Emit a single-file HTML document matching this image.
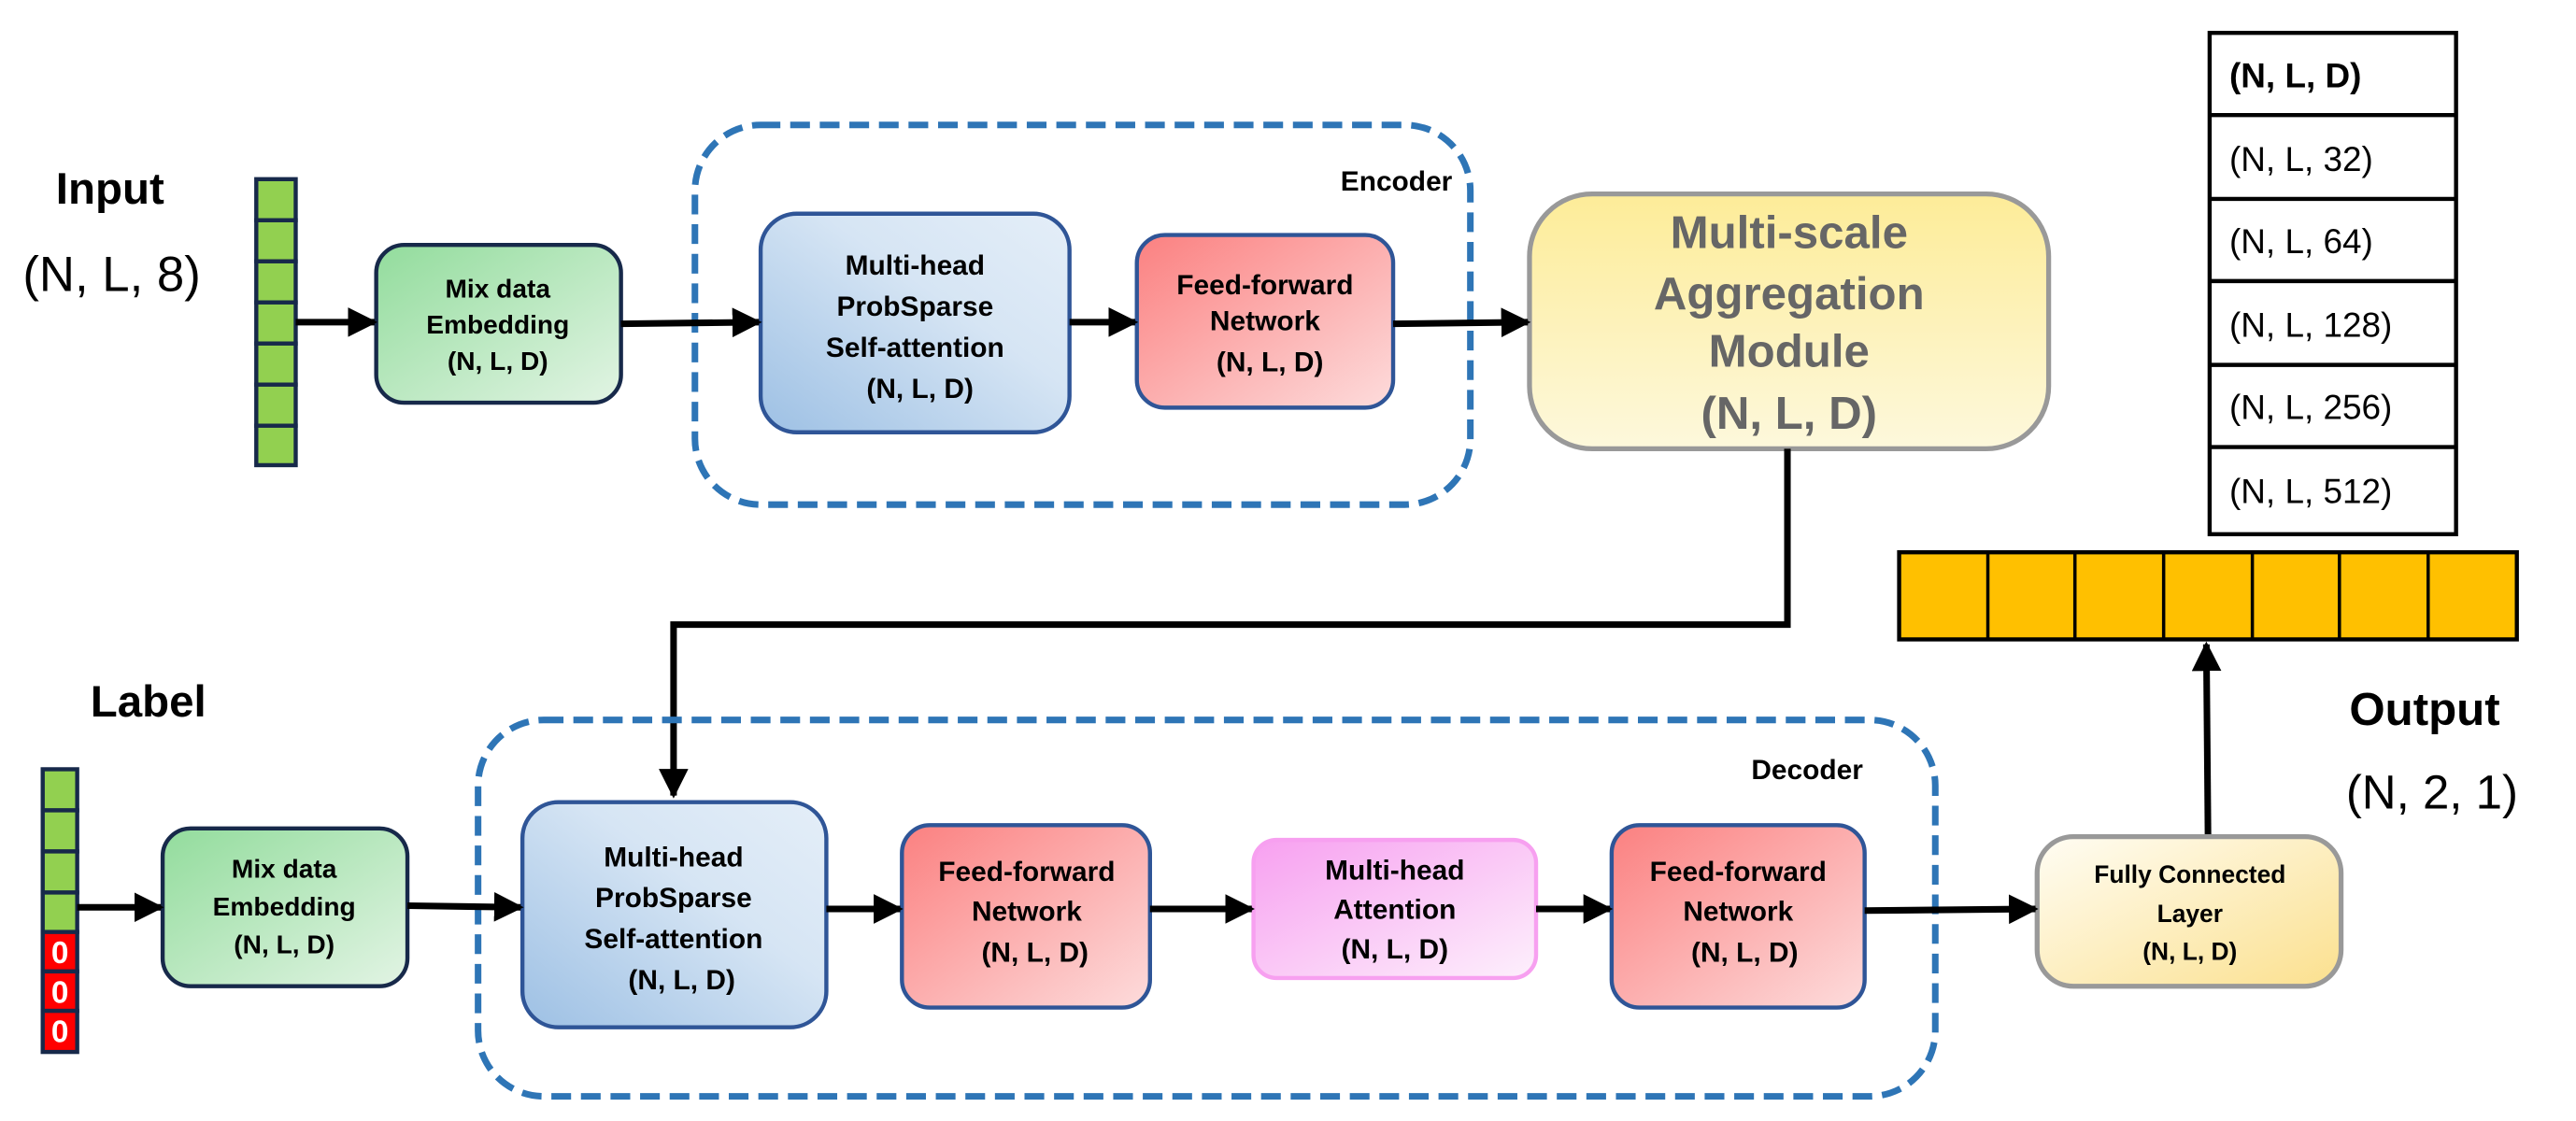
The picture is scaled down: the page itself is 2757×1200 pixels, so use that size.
<!DOCTYPE html>
<html><head><meta charset="utf-8"><style>
html,body{margin:0;padding:0;background:#fff;overflow:hidden}
svg{display:block}
text{font-family:"Liberation Sans",Arial,sans-serif}
</style></head><body>
<svg width="2757" height="1200" viewBox="0 0 1568 682" preserveAspectRatio="none" xmlns="http://www.w3.org/2000/svg">
<defs>
<linearGradient id="gG" x1="0" y1="0" x2="1" y2="1"><stop offset="0" stop-color="#92dc9c"/><stop offset="1" stop-color="#e2f4e4"/></linearGradient>
<linearGradient id="gB" x1="0" y1="1" x2="1" y2="0"><stop offset="0" stop-color="#9dc0e4"/><stop offset="0.6" stop-color="#d6e5f4"/><stop offset="1" stop-color="#e4eef8"/></linearGradient>
<linearGradient id="gR" x1="0" y1="0" x2="1" y2="1"><stop offset="0" stop-color="#fb8080"/><stop offset="1" stop-color="#fddcdc"/></linearGradient>
<linearGradient id="gP" x1="0" y1="0" x2="1" y2="1"><stop offset="0" stop-color="#f7a0f0"/><stop offset="1" stop-color="#fdf0fc"/></linearGradient>
<linearGradient id="gY" x1="0" y1="0" x2="0" y2="1"><stop offset="0" stop-color="#fdec98"/><stop offset="1" stop-color="#fdf8dc"/></linearGradient>
<linearGradient id="gF" x1="0" y1="0" x2="1" y2="1"><stop offset="0" stop-color="#fffdf4"/><stop offset="1" stop-color="#fbe08e"/></linearGradient>
<marker id="ah" viewBox="0 0 10 10" refX="9" refY="5" markerWidth="4.5" markerHeight="4.5" orient="auto"><path d="M0,0L10,5L0,10z" fill="#000"/></marker>
</defs>

<!-- Input -->
<text x="67" y="124" font-size="27" font-weight="bold" text-anchor="middle">Input</text>
<text x="68" y="177" font-size="30" text-anchor="middle">(N, L, 8)</text>
<g stroke="#17294a" stroke-width="2.5" fill="#92d050">
<rect x="156" y="109" width="24" height="25"/><rect x="156" y="134" width="24" height="25"/><rect x="156" y="159" width="24" height="25"/><rect x="156" y="184" width="24" height="25"/><rect x="156" y="209" width="24" height="25"/><rect x="156" y="234" width="24" height="25"/><rect x="156" y="259" width="24" height="24"/>
</g>

<rect x="423" y="76" width="472" height="231" rx="40" fill="none" stroke="#2e75b6" stroke-width="4" stroke-dasharray="12,6"/>
<text x="850" y="116" font-size="17" font-weight="bold" text-anchor="middle">Encoder</text>

<rect x="229" y="149" width="149" height="96" rx="17" fill="url(#gG)" stroke="#17294a" stroke-width="2.5"/>
<text font-size="16" font-weight="bold" text-anchor="middle"><tspan x="303" y="181">Mix data</tspan><tspan x="303" y="203">Embedding</tspan><tspan x="303" y="225">(N, L, D)</tspan></text>

<rect x="463" y="130" width="188" height="133" rx="22" fill="url(#gB)" stroke="#2f5597" stroke-width="2.5"/>
<text font-size="17" font-weight="bold" text-anchor="middle"><tspan x="557" y="167">Multi-head</tspan><tspan x="557" y="192">ProbSparse</tspan><tspan x="557" y="217">Self-attention</tspan><tspan x="560" y="242">(N, L, D)</tspan></text>

<rect x="692" y="143" width="156" height="105" rx="17" fill="url(#gR)" stroke="#2f5597" stroke-width="2.5"/>
<text font-size="17" font-weight="bold" text-anchor="middle"><tspan x="770" y="179">Feed-forward</tspan><tspan x="770" y="201">Network</tspan><tspan x="773" y="226">(N, L, D)</tspan></text>

<rect x="931" y="118" width="316" height="155" rx="38" fill="url(#gY)" stroke="#999" stroke-width="3"/>
<text font-size="28" font-weight="bold" fill="#666" text-anchor="middle"><tspan x="1089" y="151">Multi-scale</tspan><tspan x="1089" y="188">Aggregation</tspan><tspan x="1089" y="223">Module</tspan><tspan x="1089" y="261">(N, L, D)</tspan></text>

<g stroke="#000" stroke-width="4" fill="none" marker-end="url(#ah)">
<line x1="180" y1="196" x2="228" y2="196"/>
<line x1="378" y1="197" x2="462" y2="196"/>
<line x1="651" y1="196" x2="691" y2="196"/>
<line x1="848" y1="197" x2="930" y2="196"/>
</g>
<polyline points="1088,273 1088,380 410,380 410,484" stroke="#000" stroke-width="4" fill="none" marker-end="url(#ah)"/>

<g stroke="#000" stroke-width="2.5" fill="#fff">
<rect x="1345" y="20" width="150" height="305"/>
<line x1="1345" y1="70" x2="1495" y2="70"/><line x1="1345" y1="121" x2="1495" y2="121"/><line x1="1345" y1="171" x2="1495" y2="171"/><line x1="1345" y1="222" x2="1495" y2="222"/><line x1="1345" y1="272" x2="1495" y2="272"/>
</g>
<g font-size="21"><text x="1357" y="53" font-weight="bold">(N, L, D)</text><text x="1357" y="104">(N, L, 32)</text><text x="1357" y="154">(N, L, 64)</text><text x="1357" y="205">(N, L, 128)</text><text x="1357" y="255">(N, L, 256)</text><text x="1357" y="306">(N, L, 512)</text></g>

<g stroke="#000" stroke-width="2.5" fill="#ffc000">
<rect x="1156" y="336" width="376" height="53"/>
</g>
<g stroke="#000" stroke-width="2"><line x1="1210" y1="336" x2="1210" y2="389"/><line x1="1263" y1="336" x2="1263" y2="389"/><line x1="1317" y1="336" x2="1317" y2="389"/><line x1="1371" y1="336" x2="1371" y2="389"/><line x1="1424" y1="336" x2="1424" y2="389"/><line x1="1478" y1="336" x2="1478" y2="389"/></g>

<text x="1430" y="441" font-size="28" font-weight="bold">Output</text>
<text x="1428" y="492" font-size="29">(N, 2, 1)</text>
<line x1="1344" y1="508" x2="1343" y2="392" stroke="#000" stroke-width="4" marker-end="url(#ah)"/>

<text x="55" y="436" font-size="27" font-weight="bold">Label</text>
<g stroke="#17294a" stroke-width="2.5">
<rect x="26" y="468" width="21" height="25" fill="#92d050"/><rect x="26" y="493" width="21" height="25" fill="#92d050"/><rect x="26" y="518" width="21" height="25" fill="#92d050"/><rect x="26" y="543" width="21" height="24" fill="#92d050"/>
<rect x="26" y="567" width="21" height="24" fill="#ff0000"/><rect x="26" y="591" width="21" height="24" fill="#ff0000"/><rect x="26" y="615" width="21" height="25" fill="#ff0000"/>
</g>
<g font-size="19" font-weight="bold" fill="#fff" text-anchor="middle"><text x="36.5" y="586">0</text><text x="36.5" y="610">0</text><text x="36.5" y="634">0</text></g>

<rect x="291" y="438" width="887" height="229" rx="40" fill="none" stroke="#2e75b6" stroke-width="4" stroke-dasharray="12,6"/>
<text x="1100" y="474" font-size="17" font-weight="bold" text-anchor="middle">Decoder</text>

<rect x="99" y="504" width="149" height="96" rx="17" fill="url(#gG)" stroke="#17294a" stroke-width="2.5"/>
<text font-size="16" font-weight="bold" text-anchor="middle"><tspan x="173" y="534">Mix data</tspan><tspan x="173" y="557">Embedding</tspan><tspan x="173" y="580">(N, L, D)</tspan></text>

<rect x="318" y="488" width="185" height="137" rx="22" fill="url(#gB)" stroke="#2f5597" stroke-width="2.5"/>
<text font-size="17" font-weight="bold" text-anchor="middle"><tspan x="410" y="527">Multi-head</tspan><tspan x="410" y="552">ProbSparse</tspan><tspan x="410" y="577">Self-attention</tspan><tspan x="415" y="602">(N, L, D)</tspan></text>

<rect x="549" y="502" width="151" height="111" rx="17" fill="url(#gR)" stroke="#2f5597" stroke-width="2.5"/>
<text font-size="17" font-weight="bold" text-anchor="middle"><tspan x="625" y="536">Feed-forward</tspan><tspan x="625" y="560">Network</tspan><tspan x="630" y="585">(N, L, D)</tspan></text>

<rect x="763" y="511" width="172" height="84" rx="14" fill="url(#gP)" stroke="#f7a0f0" stroke-width="2.5"/>
<text font-size="17" font-weight="bold" text-anchor="middle"><tspan x="849" y="535">Multi-head</tspan><tspan x="849" y="559">Attention</tspan><tspan x="849" y="583">(N, L, D)</tspan></text>

<rect x="981" y="502" width="154" height="111" rx="17" fill="url(#gR)" stroke="#2f5597" stroke-width="2.5"/>
<text font-size="17" font-weight="bold" text-anchor="middle"><tspan x="1058" y="536">Feed-forward</tspan><tspan x="1058" y="560">Network</tspan><tspan x="1062" y="585">(N, L, D)</tspan></text>

<rect x="1240" y="509" width="185" height="91" rx="22" fill="url(#gF)" stroke="#999" stroke-width="3"/>
<text font-size="15" font-weight="bold" text-anchor="middle"><tspan x="1333" y="537">Fully Connected</tspan><tspan x="1333" y="561">Layer</tspan><tspan x="1333" y="584">(N, L, D)</tspan></text>

<g stroke="#000" stroke-width="4" fill="none" marker-end="url(#ah)">
<line x1="47" y1="552" x2="98" y2="552"/>
<line x1="248" y1="551" x2="317" y2="552"/>
<line x1="503" y1="553" x2="548" y2="553"/>
<line x1="700" y1="553" x2="762" y2="553"/>
<line x1="935" y1="553" x2="980" y2="553"/>
<line x1="1135" y1="554" x2="1239" y2="553"/>
</g>
</svg>
</body></html>
